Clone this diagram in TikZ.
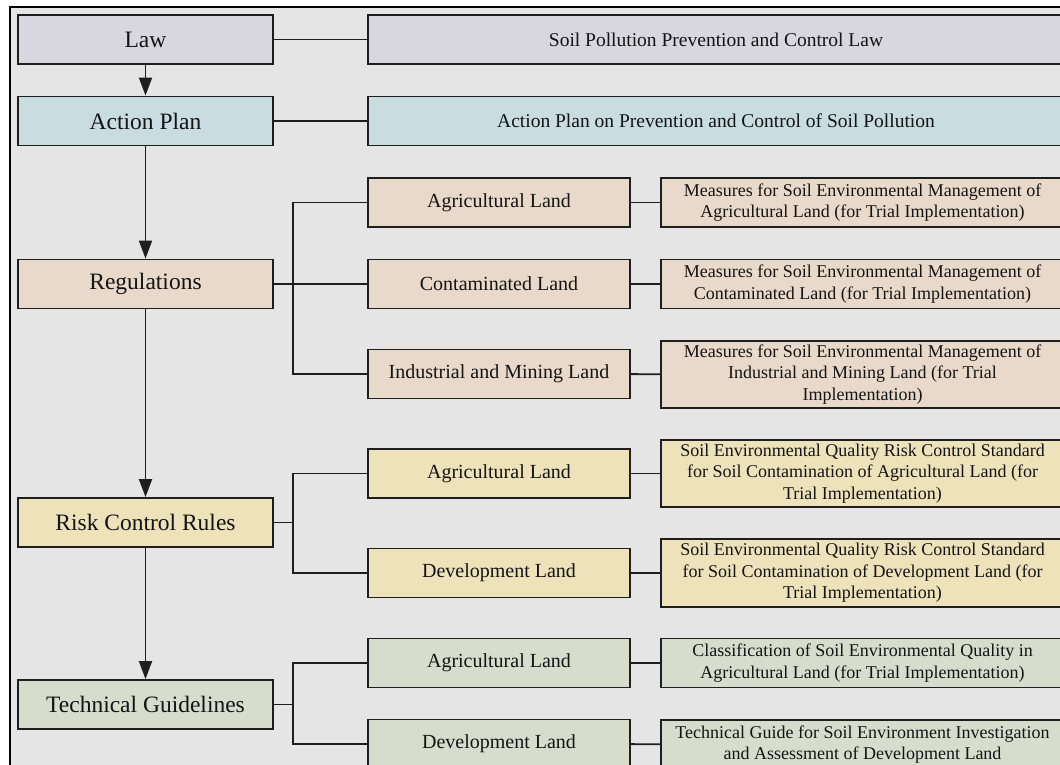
\documentclass[tikz,border=0pt]{standalone}
\usepackage{fontspec}
\setmainfont{Liberation Serif}
\usetikzlibrary{arrows.meta}

\definecolor{framebg}{RGB}{229,229,229}
\definecolor{lawfill}{RGB}{216,214,222}
\definecolor{planfill}{RGB}{200,220,226}
\definecolor{regfill}{RGB}{232,217,202}
\definecolor{riskfill}{RGB}{237,226,186}
\definecolor{techfill}{RGB}{214,221,205}
\definecolor{edge}{RGB}{30,30,30}

\tikzset{
  box/.style={draw=edge, line width=1.9pt, inner sep=2pt, align=center, text=black!92},
  mainbox/.style={box, minimum width=255pt, minimum height=49pt, font=\fontsize{23.5}{28}\selectfont},
  topbox/.style={box, minimum width=696pt, minimum height=49pt, font=\fontsize{19.5}{23}\selectfont},
  landbox/.style={box, minimum width=262pt, minimum height=49pt, font=\fontsize{20}{24}\selectfont},
  docbox/.style={box, minimum width=403pt, font=\fontsize{18}{21.5}\selectfont},
  link/.style={draw=edge, line width=1.9pt},
  flow/.style={link, -{Triangle[width=13pt,length=18pt]}}
}

\begin{document}
\begin{tikzpicture}[x=1pt,y=-1pt]
  \useasboundingbox (0,0) rectangle (1060,764);
  \clip (0,0) rectangle (1060,764);
  \fill[white] (0,0) rectangle (1060,764);
  \draw[line width=2.8pt, fill=framebg] (10,7) rectangle (1075,790);

  % left column
  \node[mainbox, fill=lawfill] (law) at (145.5,39.5) {Law};
  \node[mainbox, fill=planfill] (plan) at (145.5,121) {Action Plan};
  \node[mainbox, fill=regfill] (reg) at (145.5,284) {Regulations};
  \node[mainbox, fill=riskfill] (risk) at (145.5,522.5) {Risk Control Rules};
  \node[mainbox, fill=techfill] (tech) at (145.5,704.5) {Technical Guidelines};

  % top rows
  \node[topbox, fill=lawfill] (lawdoc) at (716,39.5) {Soil Pollution Prevention and Control Law};
  \node[topbox, fill=planfill] (plandoc) at (716,121) {Action Plan on Prevention and Control of Soil Pollution};

  % land types
  \node[landbox, fill=regfill] (regagri) at (499,202.5) {Agricultural Land};
  \node[landbox, fill=regfill] (regcont) at (499,284) {Contaminated Land};
  \node[landbox, fill=regfill] (regind) at (499,374) {Industrial and Mining Land};
  \node[landbox, fill=riskfill] (riskagri) at (499,473.5) {Agricultural Land};
  \node[landbox, fill=riskfill] (riskdev) at (499,573) {Development Land};
  \node[landbox, fill=techfill] (techagri) at (499,663) {Agricultural Land};
  \node[landbox, fill=techfill] (techdev) at (499,744) {Development Land};

  % documents
  \node[docbox, fill=regfill, minimum height=49pt] (regagridoc) at (862.5,202.5)
    {Measures for Soil Environmental Management of\\Agricultural Land (for Trial Implementation)};
  \node[docbox, fill=regfill, minimum height=49pt] (regcontdoc) at (862.5,284)
    {Measures for Soil Environmental Management of\\Contaminated Land (for Trial Implementation)};
  \node[docbox, fill=regfill, minimum height=67pt] (reginddoc) at (862.5,374.5)
    {Measures for Soil Environmental Management of\\Industrial and Mining Land (for Trial\\Implementation)};
  \node[docbox, fill=riskfill, minimum height=67pt] (riskagridoc) at (862.5,473.5)
    {Soil Environmental Quality Risk Control Standard\\for Soil Contamination of Agricultural Land (for\\Trial Implementation)};
  \node[docbox, fill=riskfill, minimum height=68pt] (riskdevdoc) at (862.5,573)
    {Soil Environmental Quality Risk Control Standard\\for Soil Contamination of Development Land (for\\Trial Implementation)};
  \node[docbox, fill=techfill, minimum height=49pt] (techagridoc) at (862.5,663)
    {Classification of Soil Environmental Quality in\\Agricultural Land (for Trial Implementation)};
  \node[docbox, fill=techfill, minimum height=49pt] (techdevdoc) at (862.5,744.5)
    {Technical Guide for Soil Environment Investigation\\and Assessment of Development Land};

  % junctions
  \coordinate (regj) at (293,284);
  \coordinate (riskj) at (293,522.5);
  \coordinate (techj) at (293,704.5);

  % hierarchy
  \draw[flow] (law) -- (plan);
  \draw[flow] (plan) -- (reg);
  \draw[flow] (reg) -- (risk);
  \draw[flow] (risk) -- (tech);

  % links
  \draw[link] (law) -- (lawdoc);
  \draw[link] (plan) -- (plandoc);
  \draw[link] (reg) -- (regcont);
  \draw[link] (regagri.west) -| (regj) |- (regind.west);
  \draw[link] (risk) -- (riskj);
  \draw[link] (riskagri.west) -| (riskj) |- (riskdev.west);
  \draw[link] (tech) -- (techj);
  \draw[link] (techagri.west) -| (techj) |- (techdev.west);
  \draw[link] (regagri) -- (regagridoc);
  \draw[link] (regcont) -- (regcontdoc);
  \draw[link] (regind) -- (reginddoc);
  \draw[link] (riskagri) -- (riskagridoc);
  \draw[link] (riskdev) -- (riskdevdoc);
  \draw[link] (techagri) -- (techagridoc);
  \draw[link] (techdev) -- (techdevdoc);
\end{tikzpicture}
\end{document}
